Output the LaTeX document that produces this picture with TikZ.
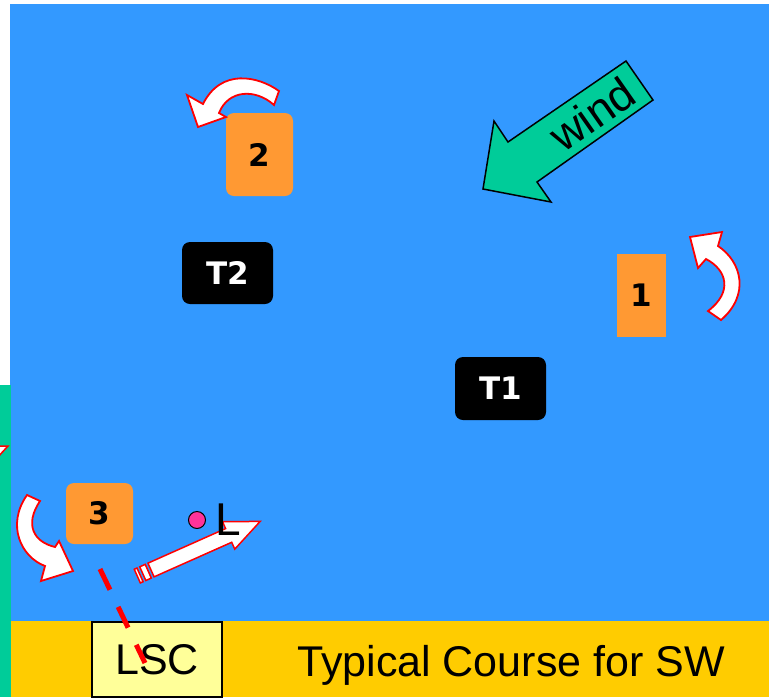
\documentclass[tikz,border=0pt]{standalone}
\usepackage{fontspec}
\setmainfont{Liberation Sans}
\newfontfamily\numfont{DejaVu Sans}
\definecolor{sea}{HTML}{3399FF}
\definecolor{markc}{HTML}{FF9933}
\definecolor{band}{HTML}{FFCC00}
\definecolor{lscc}{HTML}{FFFF99}
\definecolor{windc}{HTML}{00CC99}
\definecolor{dotc}{HTML}{FF3399}
\begin{document}
\begin{tikzpicture}[x=1pt,y=-1pt,
  buoy/.style={fill=markc, text=black, inner sep=0pt,
    font=\numfont\bfseries\fontsize{31}{31}\selectfont},
  tbox/.style={fill=black, text=white, rounded corners=8pt, inner sep=0pt,
    minimum width=91pt, minimum height=62pt,
    font=\numfont\bfseries\fontsize{31}{31}\selectfont},
  turn/.style={fill=white, draw=red, line width=1.8pt, line join=miter},
  bigtext/.style={font=\fontsize{43}{43}\selectfont, inner sep=0pt},
]
\useasboundingbox (0,0) rectangle (769,697);
% background
\fill[white] (0,0) rectangle (769,697);
\fill[sea] (10,4) rectangle (769,621);
\fill[windc] (0,385) rectangle (11,697);
\fill[band] (11,621) rectangle (769,697);
\begin{scope}
  \clip (0,385) rectangle (11,697);
  \filldraw[fill=white, draw=red, line width=1.5pt] (-3,446) -- (8,446) -- (-3,458) -- cycle;
\end{scope}

% marks
\node[buoy, rounded corners=8pt, minimum width=67pt, minimum height=83pt] (m2) at (259.5,154.5) {2};
\node[buoy, minimum width=49pt, minimum height=83pt] (m1) at (641.5,295.5) {1};
\node[buoy, rounded corners=8pt, minimum width=67pt, minimum height=61pt] (m3) at (99.5,513.5) {3};
\node[tbox] (t2) at (227.5,273) {T2};
\node[tbox, minimum height=63pt] (t1) at (500.5,388.5) {T1};

% wind arrow
\filldraw[fill=windc, draw=black, line width=1.5pt, line join=miter]
  (626,61) -- (653,100) -- (537,182) -- (551,202) -- (483,189) -- (494,121) -- (508,142) -- cycle;
\node[bigtext, rotate=35, font=\fontsize{45}{45}\selectfont] (wind) at (592,114) {wind};

% rounding arrows
\filldraw[turn] (279,91) .. controls (258,76) and (221,68) .. (203,104) -- (187,95) -- (198,127)
  -- (226,117) -- (219,113) .. controls (228,90) and (255,88) .. (274,105) -- cycle;
\filldraw[turn] (722,232) -- (690,237) -- (698,268) -- (706,259) .. controls (727,270) and (733,292) .. (708,311)
  -- (721,320) .. controls (750,295) and (742,262) .. (718,246) -- cycle;
\filldraw[turn] (27,495) .. controls (6,525) and (21,557) .. (45,566) -- (41,581) -- (73,571)
  -- (59,541) -- (55,547) .. controls (34,542) and (24,525) .. (40,501) -- cycle;

% start arrow (striped)
\begin{scope}[shift={(151,570)}, rotate=24]
  \filldraw[turn, line width=1.5pt] (0,-7.5) -- (85,-7.5) -- (85,-15) -- (119.5,0) -- (85,15) -- (85,7.5) -- (0,7.5) -- cycle;
  \filldraw[turn, line width=1.5pt] (-9,-7.5) rectangle (-3,7.5);
  \filldraw[turn, line width=1.5pt] (-15,-7.5) rectangle (-12,7.5);
\end{scope}

% pin end
\node[circle, fill=dotc, draw=black, line width=1pt, minimum size=17pt, inner sep=0pt] (pin) at (197,520) {};
\node[bigtext, font=\fontsize{46}{46}\selectfont] (lbl) at (228,520) {L};

% bottom band
\node[fill=lscc, draw=black, line width=1.5pt, minimum width=130pt, minimum height=75pt, inner sep=0pt,
  font=\fontsize{43}{43}\selectfont] (lsc) at (157,659.5) {LSC};
\node[bigtext, anchor=base west] (title) at (297,676) {Typical Course for SW};

% start line
\coordinate (s1) at (100,569);
\coordinate (s2) at (145,663);
\draw[red, line width=5pt, dash pattern=on 23pt off 19pt] (s1) -- (s2);
\end{tikzpicture}
\end{document}
